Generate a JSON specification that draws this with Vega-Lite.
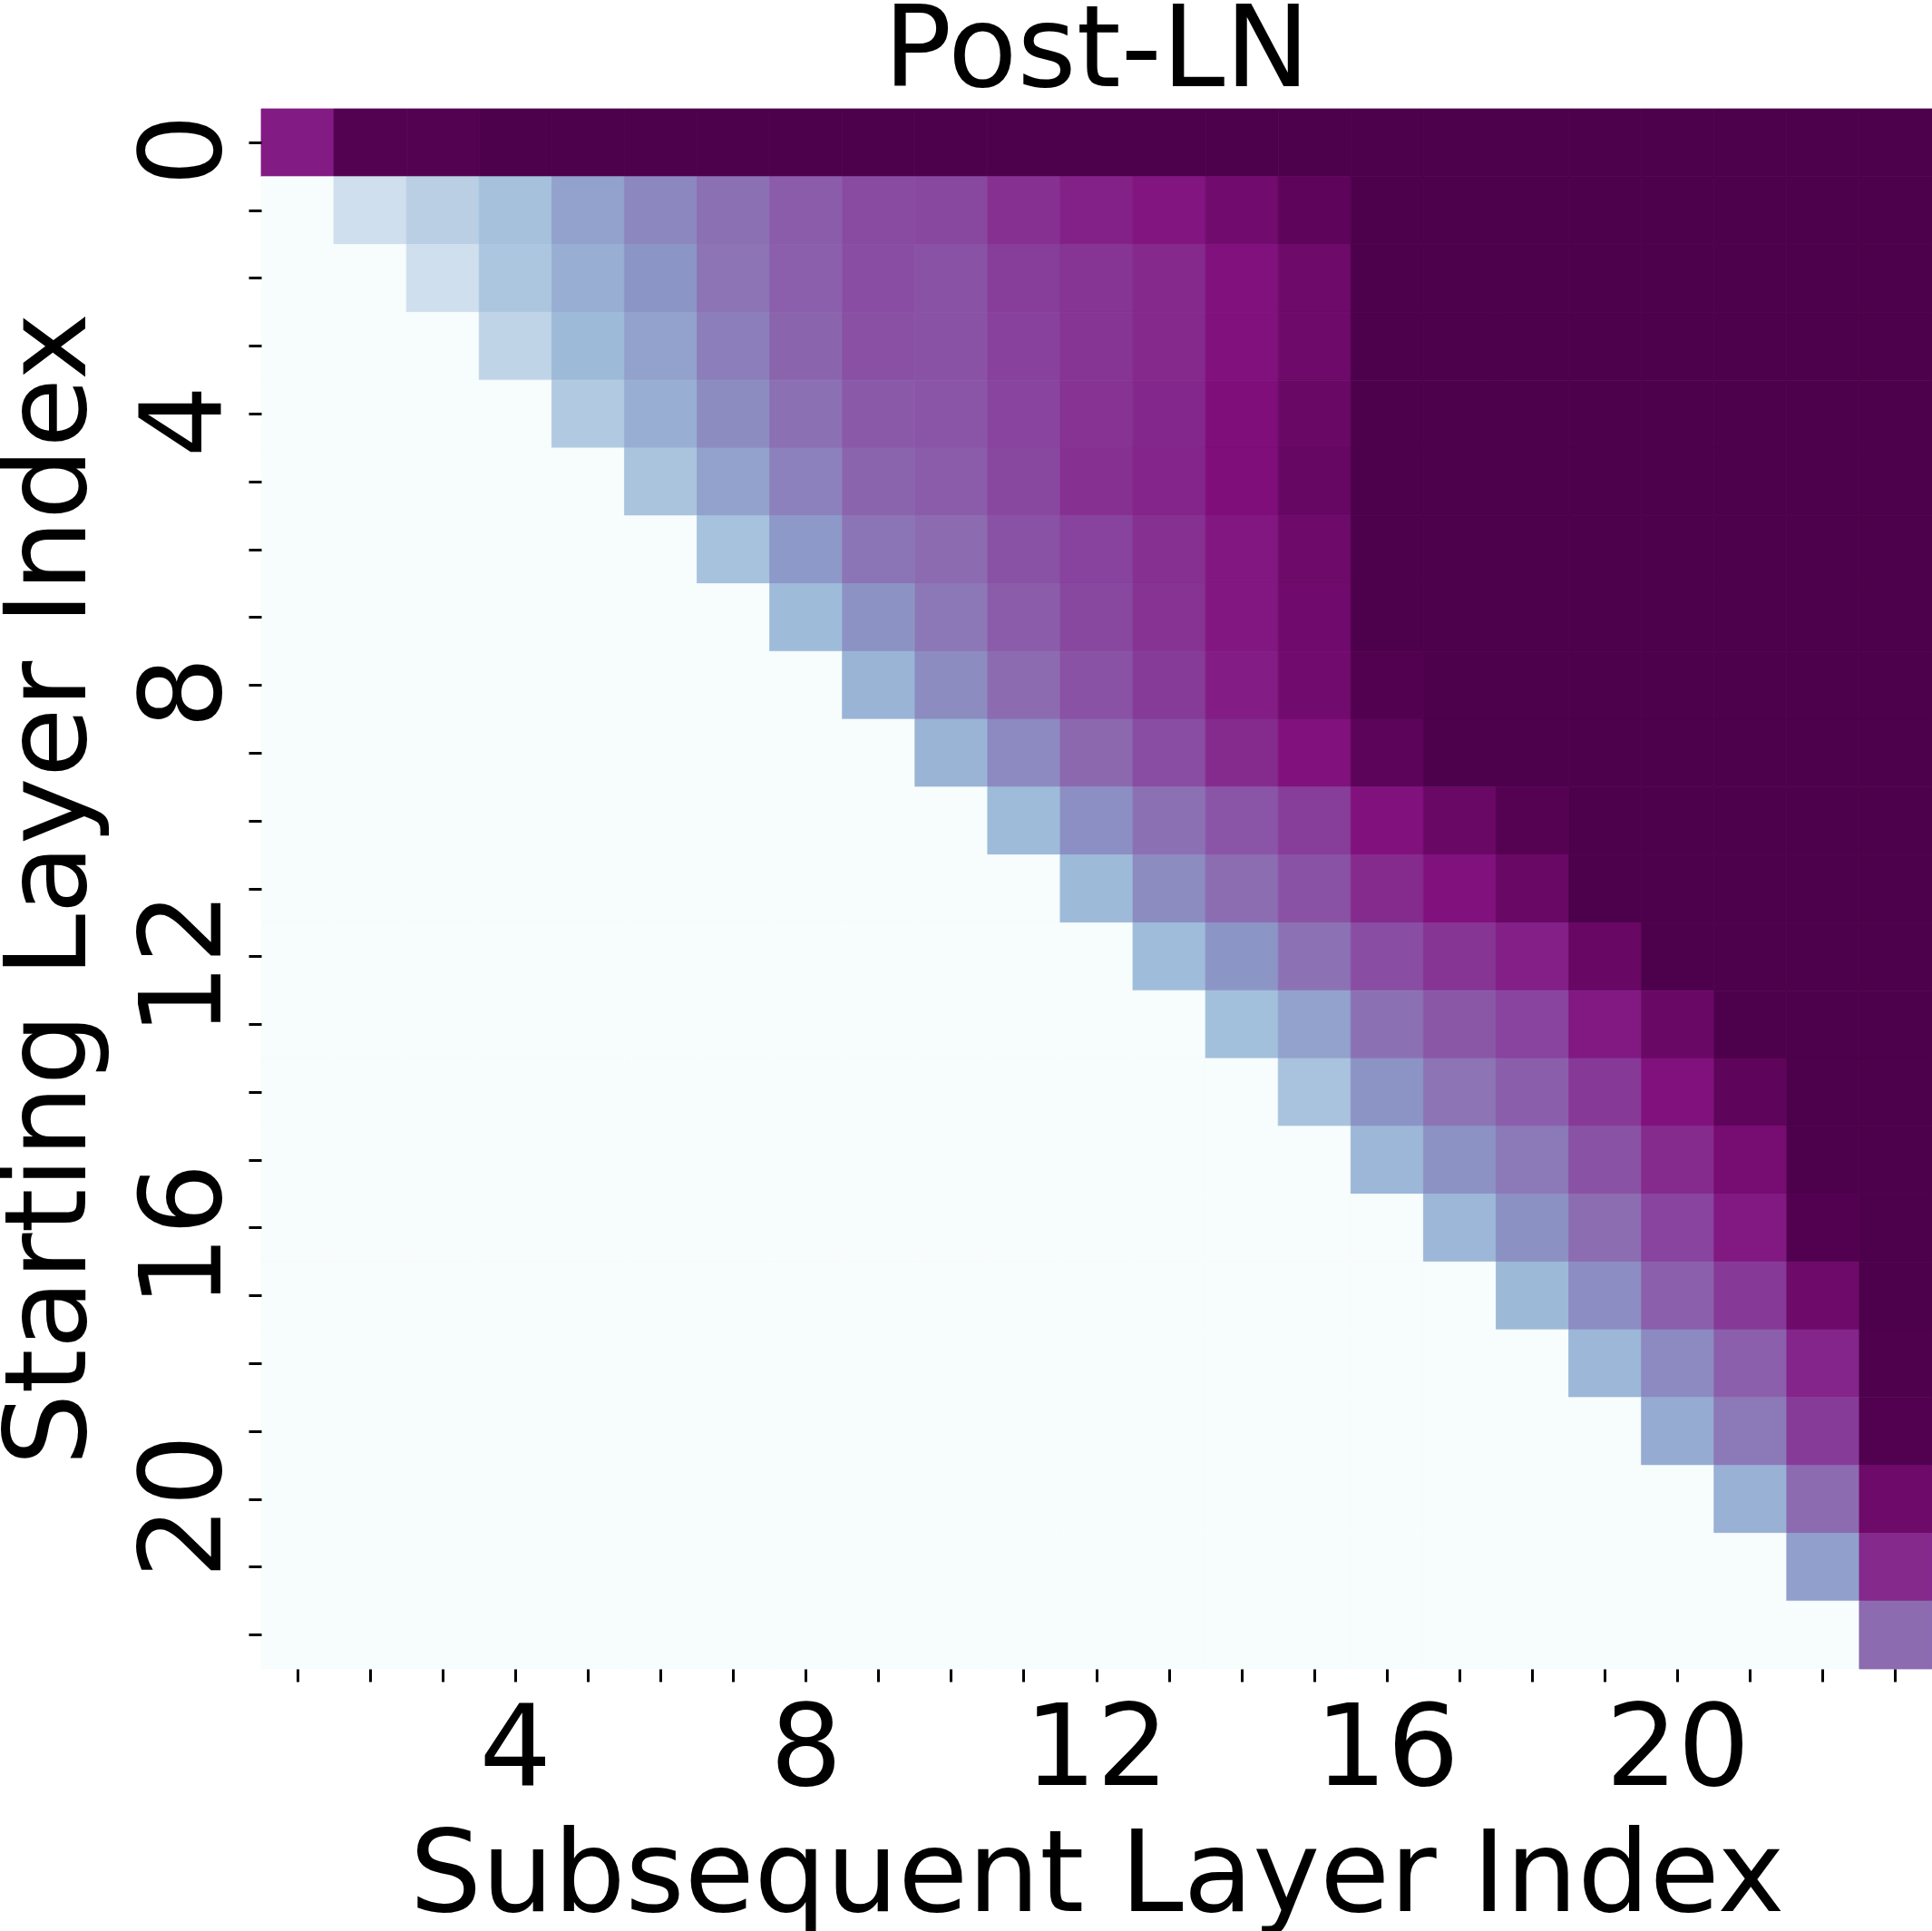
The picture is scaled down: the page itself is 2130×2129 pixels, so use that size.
{
"$schema": "https://vega.github.io/schema/vega-lite/v6.json",
"autosize": {"type": "none"},
"padding": {"left": 288, "top": 120, "right": 0, "bottom": 289},
"width": 1842,
"height": 1720,
"background": "white",
"title": {"text": "Post-LN", "font": "DejaVu Sans", "fontSize": 125, "fontWeight": "normal", "color": "black", "anchor": "middle", "frame": "group", "baseline": "alphabetic", "offset": -100},
"data": {"values": [
{"r":0,"c":1,"v":0.845},{"r":0,"c":2,"v":0.985},{"r":0,"c":3,"v":0.985},{"r":0,"c":4,"v":1},{"r":0,"c":5,"v":1},{"r":0,"c":6,"v":1},{"r":0,"c":7,"v":1},{"r":0,"c":8,"v":1},{"r":0,"c":9,"v":1},{"r":0,"c":10,"v":1},{"r":0,"c":11,"v":1},{"r":0,"c":12,"v":1},{"r":0,"c":13,"v":1},{"r":0,"c":14,"v":1},{"r":0,"c":15,"v":1},{"r":0,"c":16,"v":1},{"r":0,"c":17,"v":1},{"r":0,"c":18,"v":1},{"r":0,"c":19,"v":1},{"r":0,"c":20,"v":1},{"r":0,"c":21,"v":1},{"r":0,"c":22,"v":1},{"r":0,"c":23,"v":1},
{"r":1,"c":1,"v":0},{"r":1,"c":2,"v":0.19},{"r":1,"c":3,"v":0.27},{"r":1,"c":4,"v":0.35},{"r":1,"c":5,"v":0.46},{"r":1,"c":6,"v":0.54},{"r":1,"c":7,"v":0.61},{"r":1,"c":8,"v":0.67},{"r":1,"c":9,"v":0.72},{"r":1,"c":10,"v":0.73},{"r":1,"c":11,"v":0.79},{"r":1,"c":12,"v":0.83},{"r":1,"c":13,"v":0.86},{"r":1,"c":14,"v":0.91},{"r":1,"c":15,"v":0.96},{"r":1,"c":16,"v":1},{"r":1,"c":17,"v":1},{"r":1,"c":18,"v":1},{"r":1,"c":19,"v":1},{"r":1,"c":20,"v":1},{"r":1,"c":21,"v":1},{"r":1,"c":22,"v":1},{"r":1,"c":23,"v":1},
{"r":2,"c":1,"v":0},{"r":2,"c":2,"v":0},{"r":2,"c":3,"v":0.19},{"r":2,"c":4,"v":0.32},{"r":2,"c":5,"v":0.42},{"r":2,"c":6,"v":0.5},{"r":2,"c":7,"v":0.6},{"r":2,"c":8,"v":0.66},{"r":2,"c":9,"v":0.71},{"r":2,"c":10,"v":0.7},{"r":2,"c":11,"v":0.76},{"r":2,"c":12,"v":0.78},{"r":2,"c":13,"v":0.81},{"r":2,"c":14,"v":0.87},{"r":2,"c":15,"v":0.92},{"r":2,"c":16,"v":1},{"r":2,"c":17,"v":1},{"r":2,"c":18,"v":1},{"r":2,"c":19,"v":1},{"r":2,"c":20,"v":1},{"r":2,"c":21,"v":1},{"r":2,"c":22,"v":1},{"r":2,"c":23,"v":1},
{"r":3,"c":1,"v":0},{"r":3,"c":2,"v":0},{"r":3,"c":3,"v":0},{"r":3,"c":4,"v":0.245},{"r":3,"c":5,"v":0.38},{"r":3,"c":6,"v":0.46},{"r":3,"c":7,"v":0.57},{"r":3,"c":8,"v":0.645},{"r":3,"c":9,"v":0.705},{"r":3,"c":10,"v":0.7},{"r":3,"c":11,"v":0.75},{"r":3,"c":12,"v":0.78},{"r":3,"c":13,"v":0.81},{"r":3,"c":14,"v":0.87},{"r":3,"c":15,"v":0.92},{"r":3,"c":16,"v":1},{"r":3,"c":17,"v":1},{"r":3,"c":18,"v":1},{"r":3,"c":19,"v":1},{"r":3,"c":20,"v":1},{"r":3,"c":21,"v":1},{"r":3,"c":22,"v":1},{"r":3,"c":23,"v":1},
{"r":4,"c":1,"v":0},{"r":4,"c":2,"v":0},{"r":4,"c":3,"v":0},{"r":4,"c":4,"v":0},{"r":4,"c":5,"v":0.3},{"r":4,"c":6,"v":0.42},{"r":4,"c":7,"v":0.53},{"r":4,"c":8,"v":0.61},{"r":4,"c":9,"v":0.68},{"r":4,"c":10,"v":0.69},{"r":4,"c":11,"v":0.74},{"r":4,"c":12,"v":0.785},{"r":4,"c":13,"v":0.815},{"r":4,"c":14,"v":0.88},{"r":4,"c":15,"v":0.93},{"r":4,"c":16,"v":1},{"r":4,"c":17,"v":1},{"r":4,"c":18,"v":1},{"r":4,"c":19,"v":1},{"r":4,"c":20,"v":1},{"r":4,"c":21,"v":1},{"r":4,"c":22,"v":1},{"r":4,"c":23,"v":1},
{"r":5,"c":1,"v":0},{"r":5,"c":2,"v":0},{"r":5,"c":3,"v":0},{"r":5,"c":4,"v":0},{"r":5,"c":5,"v":0},{"r":5,"c":6,"v":0.33},{"r":5,"c":7,"v":0.46},{"r":5,"c":8,"v":0.56},{"r":5,"c":9,"v":0.645},{"r":5,"c":10,"v":0.67},{"r":5,"c":11,"v":0.73},{"r":5,"c":12,"v":0.79},{"r":5,"c":13,"v":0.82},{"r":5,"c":14,"v":0.88},{"r":5,"c":15,"v":0.94},{"r":5,"c":16,"v":1},{"r":5,"c":17,"v":1},{"r":5,"c":18,"v":1},{"r":5,"c":19,"v":1},{"r":5,"c":20,"v":1},{"r":5,"c":21,"v":1},{"r":5,"c":22,"v":1},{"r":5,"c":23,"v":1},
{"r":6,"c":1,"v":0},{"r":6,"c":2,"v":0},{"r":6,"c":3,"v":0},{"r":6,"c":4,"v":0},{"r":6,"c":5,"v":0},{"r":6,"c":6,"v":0},{"r":6,"c":7,"v":0.34},{"r":6,"c":8,"v":0.49},{"r":6,"c":9,"v":0.595},{"r":6,"c":10,"v":0.625},{"r":6,"c":11,"v":0.7},{"r":6,"c":12,"v":0.745},{"r":6,"c":13,"v":0.79},{"r":6,"c":14,"v":0.855},{"r":6,"c":15,"v":0.92},{"r":6,"c":16,"v":1},{"r":6,"c":17,"v":1},{"r":6,"c":18,"v":1},{"r":6,"c":19,"v":1},{"r":6,"c":20,"v":1},{"r":6,"c":21,"v":1},{"r":6,"c":22,"v":1},{"r":6,"c":23,"v":1},
{"r":7,"c":1,"v":0},{"r":7,"c":2,"v":0},{"r":7,"c":3,"v":0},{"r":7,"c":4,"v":0},{"r":7,"c":5,"v":0},{"r":7,"c":6,"v":0},{"r":7,"c":7,"v":0},{"r":7,"c":8,"v":0.375},{"r":7,"c":9,"v":0.51},{"r":7,"c":10,"v":0.59},{"r":7,"c":11,"v":0.67},{"r":7,"c":12,"v":0.73},{"r":7,"c":13,"v":0.785},{"r":7,"c":14,"v":0.855},{"r":7,"c":15,"v":0.915},{"r":7,"c":16,"v":1},{"r":7,"c":17,"v":1},{"r":7,"c":18,"v":1},{"r":7,"c":19,"v":1},{"r":7,"c":20,"v":1},{"r":7,"c":21,"v":1},{"r":7,"c":22,"v":1},{"r":7,"c":23,"v":1},
{"r":8,"c":1,"v":0},{"r":8,"c":2,"v":0},{"r":8,"c":3,"v":0},{"r":8,"c":4,"v":0},{"r":8,"c":5,"v":0},{"r":8,"c":6,"v":0},{"r":8,"c":7,"v":0},{"r":8,"c":8,"v":0},{"r":8,"c":9,"v":0.4},{"r":8,"c":10,"v":0.53},{"r":8,"c":11,"v":0.625},{"r":8,"c":12,"v":0.7},{"r":8,"c":13,"v":0.765},{"r":8,"c":14,"v":0.84},{"r":8,"c":15,"v":0.91},{"r":8,"c":16,"v":0.99},{"r":8,"c":17,"v":1},{"r":8,"c":18,"v":1},{"r":8,"c":19,"v":1},{"r":8,"c":20,"v":1},{"r":8,"c":21,"v":1},{"r":8,"c":22,"v":1},{"r":8,"c":23,"v":1},
{"r":9,"c":1,"v":0},{"r":9,"c":2,"v":0},{"r":9,"c":3,"v":0},{"r":9,"c":4,"v":0},{"r":9,"c":5,"v":0},{"r":9,"c":6,"v":0},{"r":9,"c":7,"v":0},{"r":9,"c":8,"v":0},{"r":9,"c":9,"v":0},{"r":9,"c":10,"v":0.4},{"r":9,"c":11,"v":0.535},{"r":9,"c":12,"v":0.635},{"r":9,"c":13,"v":0.715},{"r":9,"c":14,"v":0.805},{"r":9,"c":15,"v":0.87},{"r":9,"c":16,"v":0.965},{"r":9,"c":17,"v":1},{"r":9,"c":18,"v":1},{"r":9,"c":19,"v":1},{"r":9,"c":20,"v":1},{"r":9,"c":21,"v":1},{"r":9,"c":22,"v":1},{"r":9,"c":23,"v":1},
{"r":10,"c":1,"v":0},{"r":10,"c":2,"v":0},{"r":10,"c":3,"v":0},{"r":10,"c":4,"v":0},{"r":10,"c":5,"v":0},{"r":10,"c":6,"v":0},{"r":10,"c":7,"v":0},{"r":10,"c":8,"v":0},{"r":10,"c":9,"v":0},{"r":10,"c":10,"v":0},{"r":10,"c":11,"v":0.375},{"r":10,"c":12,"v":0.52},{"r":10,"c":13,"v":0.61},{"r":10,"c":14,"v":0.69},{"r":10,"c":15,"v":0.76},{"r":10,"c":16,"v":0.87},{"r":10,"c":17,"v":0.93},{"r":10,"c":18,"v":0.98},{"r":10,"c":19,"v":1},{"r":10,"c":20,"v":1},{"r":10,"c":21,"v":1},{"r":10,"c":22,"v":1},{"r":10,"c":23,"v":1},
{"r":11,"c":1,"v":0},{"r":11,"c":2,"v":0},{"r":11,"c":3,"v":0},{"r":11,"c":4,"v":0},{"r":11,"c":5,"v":0},{"r":11,"c":6,"v":0},{"r":11,"c":7,"v":0},{"r":11,"c":8,"v":0},{"r":11,"c":9,"v":0},{"r":11,"c":10,"v":0},{"r":11,"c":11,"v":0},{"r":11,"c":12,"v":0.38},{"r":11,"c":13,"v":0.53},{"r":11,"c":14,"v":0.62},{"r":11,"c":15,"v":0.7},{"r":11,"c":16,"v":0.805},{"r":11,"c":17,"v":0.87},{"r":11,"c":18,"v":0.93},{"r":11,"c":19,"v":1},{"r":11,"c":20,"v":1},{"r":11,"c":21,"v":1},{"r":11,"c":22,"v":1},{"r":11,"c":23,"v":1},
{"r":12,"c":1,"v":0},{"r":12,"c":2,"v":0},{"r":12,"c":3,"v":0},{"r":12,"c":4,"v":0},{"r":12,"c":5,"v":0},{"r":12,"c":6,"v":0},{"r":12,"c":7,"v":0},{"r":12,"c":8,"v":0},{"r":12,"c":9,"v":0},{"r":12,"c":10,"v":0},{"r":12,"c":11,"v":0},{"r":12,"c":12,"v":0},{"r":12,"c":13,"v":0.37},{"r":12,"c":14,"v":0.5},{"r":12,"c":15,"v":0.605},{"r":12,"c":16,"v":0.71},{"r":12,"c":17,"v":0.78},{"r":12,"c":18,"v":0.835},{"r":12,"c":19,"v":0.935},{"r":12,"c":20,"v":1},{"r":12,"c":21,"v":1},{"r":12,"c":22,"v":1},{"r":12,"c":23,"v":1},
{"r":13,"c":1,"v":0},{"r":13,"c":2,"v":0},{"r":13,"c":3,"v":0},{"r":13,"c":4,"v":0},{"r":13,"c":5,"v":0},{"r":13,"c":6,"v":0},{"r":13,"c":7,"v":0},{"r":13,"c":8,"v":0},{"r":13,"c":9,"v":0},{"r":13,"c":10,"v":0},{"r":13,"c":11,"v":0},{"r":13,"c":12,"v":0},{"r":13,"c":13,"v":0},{"r":13,"c":14,"v":0.36},{"r":13,"c":15,"v":0.46},{"r":13,"c":16,"v":0.61},{"r":13,"c":17,"v":0.685},{"r":13,"c":18,"v":0.74},{"r":13,"c":19,"v":0.85},{"r":13,"c":20,"v":0.93},{"r":13,"c":21,"v":1},{"r":13,"c":22,"v":1},{"r":13,"c":23,"v":1},
{"r":14,"c":1,"v":0},{"r":14,"c":2,"v":0},{"r":14,"c":3,"v":0},{"r":14,"c":4,"v":0},{"r":14,"c":5,"v":0},{"r":14,"c":6,"v":0},{"r":14,"c":7,"v":0},{"r":14,"c":8,"v":0},{"r":14,"c":9,"v":0},{"r":14,"c":10,"v":0},{"r":14,"c":11,"v":0},{"r":14,"c":12,"v":0},{"r":14,"c":13,"v":0},{"r":14,"c":14,"v":0},{"r":14,"c":15,"v":0.335},{"r":14,"c":16,"v":0.505},{"r":14,"c":17,"v":0.6},{"r":14,"c":18,"v":0.665},{"r":14,"c":19,"v":0.77},{"r":14,"c":20,"v":0.87},{"r":14,"c":21,"v":0.96},{"r":14,"c":22,"v":1},{"r":14,"c":23,"v":1},
{"r":15,"c":1,"v":0},{"r":15,"c":2,"v":0},{"r":15,"c":3,"v":0},{"r":15,"c":4,"v":0},{"r":15,"c":5,"v":0},{"r":15,"c":6,"v":0},{"r":15,"c":7,"v":0},{"r":15,"c":8,"v":0},{"r":15,"c":9,"v":0},{"r":15,"c":10,"v":0},{"r":15,"c":11,"v":0},{"r":15,"c":12,"v":0},{"r":15,"c":13,"v":0},{"r":15,"c":14,"v":0},{"r":15,"c":15,"v":0},{"r":15,"c":16,"v":0.39},{"r":15,"c":17,"v":0.51},{"r":15,"c":18,"v":0.585},{"r":15,"c":19,"v":0.7},{"r":15,"c":20,"v":0.805},{"r":15,"c":21,"v":0.9},{"r":15,"c":22,"v":1},{"r":15,"c":23,"v":1},
{"r":16,"c":1,"v":0},{"r":16,"c":2,"v":0},{"r":16,"c":3,"v":0},{"r":16,"c":4,"v":0},{"r":16,"c":5,"v":0},{"r":16,"c":6,"v":0},{"r":16,"c":7,"v":0},{"r":16,"c":8,"v":0},{"r":16,"c":9,"v":0},{"r":16,"c":10,"v":0},{"r":16,"c":11,"v":0},{"r":16,"c":12,"v":0},{"r":16,"c":13,"v":0},{"r":16,"c":14,"v":0},{"r":16,"c":15,"v":0},{"r":16,"c":16,"v":0},{"r":16,"c":17,"v":0.39},{"r":16,"c":18,"v":0.515},{"r":16,"c":19,"v":0.62},{"r":16,"c":20,"v":0.74},{"r":16,"c":21,"v":0.85},{"r":16,"c":22,"v":0.99},{"r":16,"c":23,"v":1},
{"r":17,"c":1,"v":0},{"r":17,"c":2,"v":0},{"r":17,"c":3,"v":0},{"r":17,"c":4,"v":0},{"r":17,"c":5,"v":0},{"r":17,"c":6,"v":0},{"r":17,"c":7,"v":0},{"r":17,"c":8,"v":0},{"r":17,"c":9,"v":0},{"r":17,"c":10,"v":0},{"r":17,"c":11,"v":0},{"r":17,"c":12,"v":0},{"r":17,"c":13,"v":0},{"r":17,"c":14,"v":0},{"r":17,"c":15,"v":0},{"r":17,"c":16,"v":0},{"r":17,"c":17,"v":0},{"r":17,"c":18,"v":0.385},{"r":17,"c":19,"v":0.525},{"r":17,"c":20,"v":0.66},{"r":17,"c":21,"v":0.77},{"r":17,"c":22,"v":0.92},{"r":17,"c":23,"v":1},
{"r":18,"c":1,"v":0},{"r":18,"c":2,"v":0},{"r":18,"c":3,"v":0},{"r":18,"c":4,"v":0},{"r":18,"c":5,"v":0},{"r":18,"c":6,"v":0},{"r":18,"c":7,"v":0},{"r":18,"c":8,"v":0},{"r":18,"c":9,"v":0},{"r":18,"c":10,"v":0},{"r":18,"c":11,"v":0},{"r":18,"c":12,"v":0},{"r":18,"c":13,"v":0},{"r":18,"c":14,"v":0},{"r":18,"c":15,"v":0},{"r":18,"c":16,"v":0},{"r":18,"c":17,"v":0},{"r":18,"c":18,"v":0},{"r":18,"c":19,"v":0.39},{"r":18,"c":20,"v":0.535},{"r":18,"c":21,"v":0.66},{"r":18,"c":22,"v":0.82},{"r":18,"c":23,"v":0.995},
{"r":19,"c":1,"v":0},{"r":19,"c":2,"v":0},{"r":19,"c":3,"v":0},{"r":19,"c":4,"v":0},{"r":19,"c":5,"v":0},{"r":19,"c":6,"v":0},{"r":19,"c":7,"v":0},{"r":19,"c":8,"v":0},{"r":19,"c":9,"v":0},{"r":19,"c":10,"v":0},{"r":19,"c":11,"v":0},{"r":19,"c":12,"v":0},{"r":19,"c":13,"v":0},{"r":19,"c":14,"v":0},{"r":19,"c":15,"v":0},{"r":19,"c":16,"v":0},{"r":19,"c":17,"v":0},{"r":19,"c":18,"v":0},{"r":19,"c":19,"v":0},{"r":19,"c":20,"v":0.43},{"r":19,"c":21,"v":0.585},{"r":19,"c":22,"v":0.765},{"r":19,"c":23,"v":0.99},
{"r":20,"c":1,"v":0},{"r":20,"c":2,"v":0},{"r":20,"c":3,"v":0},{"r":20,"c":4,"v":0},{"r":20,"c":5,"v":0},{"r":20,"c":6,"v":0},{"r":20,"c":7,"v":0},{"r":20,"c":8,"v":0},{"r":20,"c":9,"v":0},{"r":20,"c":10,"v":0},{"r":20,"c":11,"v":0},{"r":20,"c":12,"v":0},{"r":20,"c":13,"v":0},{"r":20,"c":14,"v":0},{"r":20,"c":15,"v":0},{"r":20,"c":16,"v":0},{"r":20,"c":17,"v":0},{"r":20,"c":18,"v":0},{"r":20,"c":19,"v":0},{"r":20,"c":20,"v":0},{"r":20,"c":21,"v":0.41},{"r":20,"c":22,"v":0.625},{"r":20,"c":23,"v":0.92},
{"r":21,"c":1,"v":0},{"r":21,"c":2,"v":0},{"r":21,"c":3,"v":0},{"r":21,"c":4,"v":0},{"r":21,"c":5,"v":0},{"r":21,"c":6,"v":0},{"r":21,"c":7,"v":0},{"r":21,"c":8,"v":0},{"r":21,"c":9,"v":0},{"r":21,"c":10,"v":0},{"r":21,"c":11,"v":0},{"r":21,"c":12,"v":0},{"r":21,"c":13,"v":0},{"r":21,"c":14,"v":0},{"r":21,"c":15,"v":0},{"r":21,"c":16,"v":0},{"r":21,"c":17,"v":0},{"r":21,"c":18,"v":0},{"r":21,"c":19,"v":0},{"r":21,"c":20,"v":0},{"r":21,"c":21,"v":0},{"r":21,"c":22,"v":0.47},{"r":21,"c":23,"v":0.81},
{"r":22,"c":1,"v":0},{"r":22,"c":2,"v":0},{"r":22,"c":3,"v":0},{"r":22,"c":4,"v":0},{"r":22,"c":5,"v":0},{"r":22,"c":6,"v":0},{"r":22,"c":7,"v":0},{"r":22,"c":8,"v":0},{"r":22,"c":9,"v":0},{"r":22,"c":10,"v":0},{"r":22,"c":11,"v":0},{"r":22,"c":12,"v":0},{"r":22,"c":13,"v":0},{"r":22,"c":14,"v":0},{"r":22,"c":15,"v":0},{"r":22,"c":16,"v":0},{"r":22,"c":17,"v":0},{"r":22,"c":18,"v":0},{"r":22,"c":19,"v":0},{"r":22,"c":20,"v":0},{"r":22,"c":21,"v":0},{"r":22,"c":22,"v":0},{"r":22,"c":23,"v":0.625}
]},
"mark": {"type": "rect", "strokeWidth": 0.8},
"encoding": {
"x": {"field": "c", "type": "ordinal", "sort": "ascending",
"scale": {"paddingInner": 0, "paddingOuter": 0},
"axis": {"title": "Subsequent Layer Index", "orient": "bottom", "domain": false, "grid": false,
"ticks": true, "tickSize": 14, "tickWidth": 3, "tickColor": "black",
"labelAngle": 0, "labelAlign": "center", "labelBaseline": "alphabetic", "labelPadding": 113,
"labelFont": "DejaVu Sans", "labelFontSize": 125, "labelColor": "black", "labelOverlap": false,
"labelExpr": "datum.value % 4 == 0 ? datum.label : ''",
"titleFont": "DejaVu Sans", "titleFontSize": 125, "titleFontWeight": "normal", "titleColor": "black",
"titleBaseline": "alphabetic", "titleAlign": "center", "titleY": 266}},
"y": {"field": "r", "type": "ordinal", "sort": "ascending",
"scale": {"paddingInner": 0, "paddingOuter": 0},
"axis": {"title": "Starting Layer Index", "orient": "left", "domain": false, "grid": false,
"ticks": true, "tickSize": 14, "tickWidth": 3, "tickColor": "black",
"labelAngle": 270, "labelAlign": "center", "labelBaseline": "alphabetic", "labelPadding": 32, "labelOffset": 8,
"labelFont": "DejaVu Sans", "labelFontSize": 125, "labelColor": "black", "labelOverlap": false,
"labelExpr": "datum.value % 4 == 0 ? datum.label : ''",
"titleFont": "DejaVu Sans", "titleFontSize": 125, "titleFontWeight": "normal", "titleColor": "black",
"titleAngle": 270, "titleBaseline": "alphabetic", "titleAlign": "center", "titleX": -195, "titleY": 860}},
"fill": {"field": "v", "type": "quantitative", "legend": null,
"scale": {"type": "linear", "domain": [0, 0.125, 0.25, 0.375, 0.5, 0.625, 0.75, 0.875, 1], "range": ["#f7fcfd", "#e0ecf4", "#bfd3e6", "#9ebcda", "#8c96c6", "#8c6bb1", "#88419d", "#810f7c", "#4d004b"], "interpolate": "rgb"}},
"stroke": {"field": "v", "type": "quantitative", "legend": null,
"scale": {"type": "linear", "domain": [0, 0.125, 0.25, 0.375, 0.5, 0.625, 0.75, 0.875, 1], "range": ["#f7fcfd", "#e0ecf4", "#bfd3e6", "#9ebcda", "#8c96c6", "#8c6bb1", "#88419d", "#810f7c", "#4d004b"], "interpolate": "rgb"}}
},
"config": {"view": {"stroke": null}}
}
